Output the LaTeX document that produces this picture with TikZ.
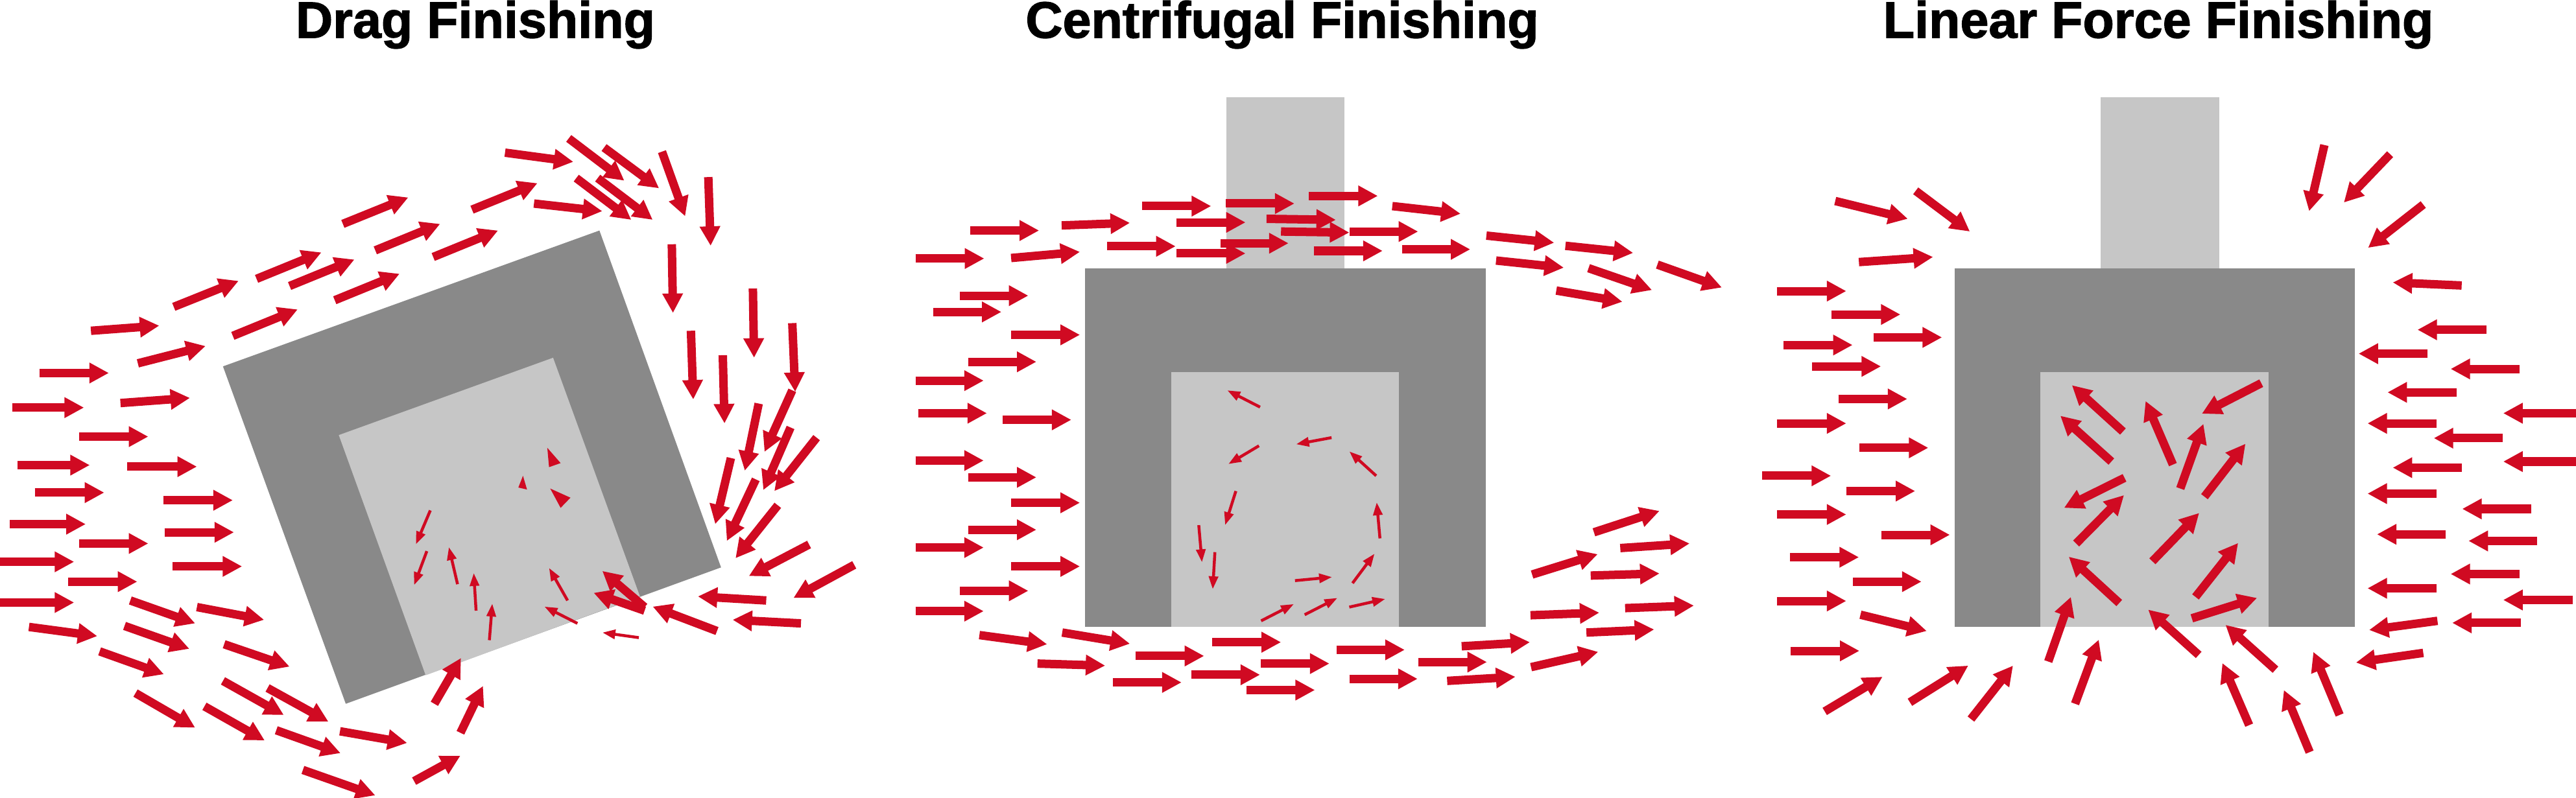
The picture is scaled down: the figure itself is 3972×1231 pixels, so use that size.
\documentclass[tikz,border=0pt]{standalone}
\usepackage{fontspec}
\setmainfont{Liberation Sans}
\newfontfamily\headfont[FakeBold=1.6]{Liberation Sans Bold}
\usetikzlibrary{arrows.meta}

\definecolor{flowred}{HTML}{D00A22}
\definecolor{partdark}{HTML}{898989}
\definecolor{partlight}{HTML}{C6C6C6}

\tikzset{
  flow/.style={draw=flowred,line width=0.13cm,-{Triangle[length=0.3cm,width=0.3cm]},flowred},
  flowthin/.style={draw=flowred,line width=0.045cm,-{Triangle[length=0.2cm,width=0.14cm]},flowred},
  heading/.style={font=\fontsize{22.5}{26}\headfont,anchor=center},
}

\begin{document}
\begin{tikzpicture}[x=0.01cm,y=-0.01cm]
  \useasboundingbox (0,0) rectangle (3972,1231);

  % drag finishing
  \node[heading] (dragtitle) at (733,38) {Drag Finishing};
  \begin{scope}[xscale=0.893,yscale=0.785]
    \fill[partdark] (385,720) -- (1035,453) -- (1245,1115) -- (597,1383) -- cycle;
    \fill[partlight] (585,855) -- (955,703) -- (1105,1172) -- (735,1327) -- cycle;
    \foreach \xa/\ya/\xb/\yb in {592/440/705/388, 815/412/928/360, 648/492/760/440,
      748/505/860/453, 443/548/555/496, 500/562/612/510, 578/590/690/538,
      300/603/412/552, 402/660/514/608, 157/650/275/640, 238/714/355/680,
      68/733/188/733, 21/801/145/801, 208/792/328/782, 137/858/256/858,
      30/914/155/914, 220/917/340/917, 60/968/180/968, 282/983/402/983,
      17/1030/148/1030, 284/1046/404/1046, 137/1068/256/1068, 0/1104/128/1104,
      298/1113/418/1113, 118/1143/237/1143, 0/1184/128/1184, 225/1180/337/1225,
      340/1193/456/1218, 50/1232/168/1250, 215/1230/327/1275, 387/1266/500/1310,
      172/1280/283/1325, 385/1338/490/1405, 462/1352/567/1418, 234/1362/337/1430,
      353/1388/457/1455, 477/1435/588/1480, 587/1437/703/1460, 523/1513/648/1563,
      715/1535/795/1485, 750/1383/796/1293, 795/1440/834/1348,
      872/300/990/318, 922/400/1040/415, 982/272/1078/355, 1043/290/1138/370,
      995/350/1090/432, 1032/350/1127/432, 1143/298/1183/425, 1223/348/1227/483,
      1160/480/1162/615, 1300/567/1302/703, 1193/650/1197/785, 1248/698/1251/832,
      1368/635/1373/770, 1310/793/1286/925, 1368/767/1320/888, 1262/900/1235/1030,
      1365/840/1318/963, 1410/860/1337/965, 1305/942/1255/1063, 1343/993/1270/1097,
      1397/1070/1293/1132, 1475/1110/1370/1175, 1323/1180/1205/1172,
      1383/1225/1265/1218, 1238/1240/1127/1192, 1113/1200/1025/1165,
      1113/1193/1040/1122}
      \draw[flow] (\xa,\ya) -- (\xb,\yb);
    \foreach \xa/\ya/\xb/\yb in {743/1003/718/1070, 737/1083/715/1150,
      790/1148/775/1075, 822/1200/818/1126, 845/1258/850/1186,
      980/1180/948/1116, 997/1225/940/1192, 1103/1253/1040/1243}
      \draw[flowthin] (\xa,\ya) -- (\xb,\yb);
    % loose heads
    \fill[flowred] (945,880) -- (968,910) -- (948,918) -- cycle;
    \fill[flowred] (903,935) -- (910,962) -- (895,958) -- cycle;
    \fill[flowred] (950,960) -- (985,978) -- (968,998) -- cycle;
  \end{scope}

  % centrifugal finishing
  \node[heading] (centtitle) at (1977,38) {Centrifugal Finishing};
  \begin{scope}[shift={(1380,0)},xscale=0.829,yscale=0.785]
    \fill[partlight] (616,191) rectangle (836,527);
    \fill[partdark] (354,527) rectangle (1099,1232);
    \fill[partlight] (514,731) rectangle (937,1232);
    \foreach \xa/\ya/\xb/\yb in {460/405/588/405, 615/400/743/400, 770/385/898/385,
      925/405/1052/420, 140/453/268/453, 310/443/437/438, 523/437/652/437,
      691/430/820/432, 718/455/845/457, 846/455/973/455, 1100/463/1226/477,
      1247/483/1373/497, 38/508/166/508, 216/507/344/495, 395/484/522/484,
      524/498/652/498, 605/478/732/478, 779/493/907/493, 943/490/1070/490,
      1118/512/1244/526, 1290/527/1408/570, 1418/520/1538/565, 1230/571/1353/593,
      121/581/248/581, 71/613/198/613, 216/658/344/658, 136/711/263/711,
      38/748/165/748, 43/812/171/812, 200/825/328/825, 38/905/165/905,
      136/938/263/938, 216/988/344/988, 136/1041/263/1041, 38/1076/165/1076,
      216/1113/344/1113, 121/1161/248/1161, 38/1201/165/1201, 157/1248/283/1266,
      311/1243/437/1265, 265/1304/391/1308, 447/1289/575/1289, 590/1262/718/1262,
      405/1341/533/1341, 551/1326/679/1326, 680/1304/808/1304, 654/1356/781/1356,
      821/1277/948/1277, 845/1334/972/1334, 973/1301/1101/1301, 1054/1270/1181/1262,
      1027/1338/1154/1330, 1183/1311/1308/1281, 1182/1209/1310/1204,
      1286/1243/1412/1237, 1358/1195/1486/1190, 1185/1129/1307/1089,
      1294/1131/1422/1127, 1349/1077/1478/1068, 1300/1046/1422/1004}
      \draw[flow] (\xa,\ya) -- (\xb,\yb);
    \foreach \xa/\ya/\xb/\yb in {679/800/618/767, 812/860/746/873, 677/876/620/912,
      895/935/845/887, 634/965/614/1032, 902/1058/896/987, 565/1032/571/1105,
      595/1085/591/1158, 744/1141/813/1134, 851/1146/892/1088, 681/1220/742/1187,
      762/1208/823/1175, 845/1193/912/1177}
      \draw[flowthin] (\xa,\ya) -- (\xb,\yb);
  \end{scope}

  % linear force finishing
  \node[heading] (lintitle) at (3328,38) {Linear Force Finishing};
  \begin{scope}[shift={(2700,0)},xscale=0.811,yscale=0.785]
    \fill[partlight] (665,191) rectangle (890,527);
    \fill[partdark] (387,527) rectangle (1148,1232);
    \fill[partlight] (550,731) rectangle (984,1232);
    \foreach \xa/\ya/\xb/\yb in {160/395/298/430, 313/375/416/455, 205/515/346/505,
      1090/285/1061/415, 1215/303/1127/398, 1278/402/1173/487,
      49/572/181/572, 153/618/284/618, 233/663/363/663, 62/678/193/678,
      116/720/247/720, 166/784/297/784, 49/832/181/832, 206/880/337/880,
      21/935/152/935, 181/965/312/965, 49/1011/181/1011, 248/1051/378/1051,
      74/1095/205/1095, 194/1143/324/1143, 49/1181/181/1181, 208/1208/334/1240,
      75/1279/206/1279, 140/1398/250/1330, 302/1380/413/1308, 418/1413/498/1308,
      565/1300/608/1173, 616/1383/661/1257, 851/1287/755/1198, 947/1425/896/1303,
      997/1316/902/1228, 1062/1478/1013/1356, 1119/1405/1069/1281,
      1351/561/1220/555, 1398/648/1267/648, 1286/695/1155/695, 1461/725/1330/725,
      1341/771/1210/771, 1568/812/1430/812, 1303/832/1172/832, 1429/861/1298/861,
      1351/919/1220/919, 1568/907/1430/907, 1303/970/1172/970, 1483/1000/1352/1000,
      1321/1050/1190/1050, 1495/1063/1364/1063, 1461/1128/1330/1128,
      1303/1156/1172/1156, 1562/1179/1430/1179, 1463/1224/1333/1224,
      1305/1220/1175/1238, 1278/1283/1150/1302,
      707/848/610/757, 685/907/588/817, 802/913/750/788, 970/753/857/813,
      816/960/860/833, 862/976/940/872, 710/939/595/998, 618/1068/709/973,
      763/1103/852/1008, 700/1185/604/1094, 845/1173/926/1067, 838/1215/962/1175}
      \draw[flow] (\xa,\ya) -- (\xb,\yb);
  \end{scope}
\end{tikzpicture}
\end{document}
